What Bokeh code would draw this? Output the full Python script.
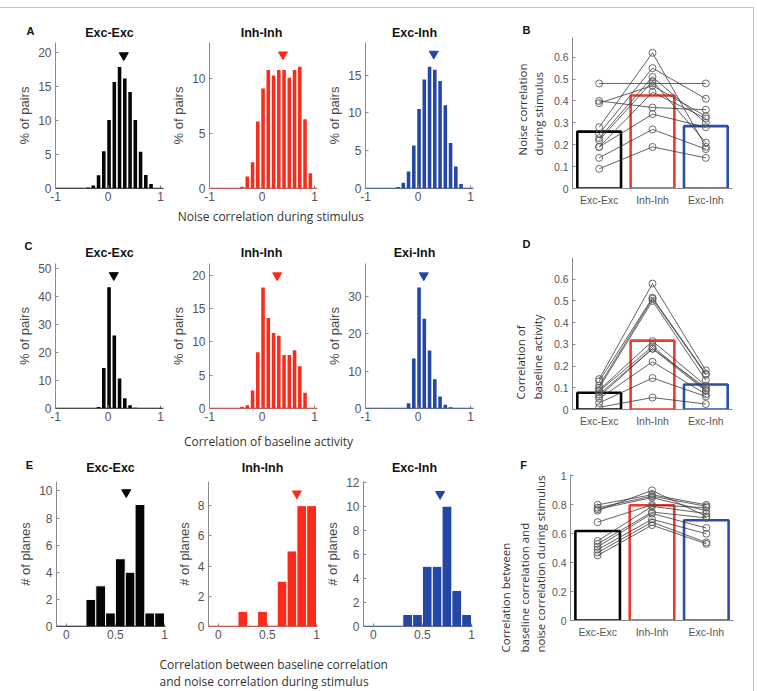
from bokeh.plotting import figure
from bokeh.layouts import column, row
from bokeh.models import Label, Span, FixedTicker, FactorRange, Range1d, NumeralTickFormatter
from bokeh.embed import file_html
from bokeh.resources import INLINE

# ---------------- data ----------------
bin_centers = [-0.98, -0.88, -0.78, -0.68, -0.58, -0.48, -0.38, -0.28, -0.18, -0.08,
               0.02, 0.12, 0.22, 0.32, 0.42, 0.52, 0.62, 0.72, 0.82, 0.92]
noise_exc_exc = [0, 0, 0, 0, 0, 0.05, 0.15, 0.45, 1.95, 5.5, 10.1, 15.7, 17.9, 16.2, 14.2, 10.1, 5.4, 2.0, 0.65, 0.05]
noise_inh_inh = [0, 0, 0, 0, 0, 0, 0.15, 1.1, 2.4, 6.1, 9.1, 10.8, 10.3, 10.8, 10.8, 10.1, 10.8, 11.1, 6.3, 1.4]
noise_exc_inh = [0, 0, 0, 0, 0, 0.05, 0.2, 0.75, 2.25, 5.7, 10.5, 14.4, 16.1, 15.7, 14.2, 11.0, 6.0, 2.9, 0.6, 0.05]

base_exc_exc = [0, 0, 0, 0, 0, 0, 0, 0, 0.5, 14.5, 43.3, 26.1, 10.7, 3.7, 1.2, 0.3, 0, 0, 0, 0]
base_inh_inh = [0, 0, 0, 0, 0, 0, 0.25, 0.5, 2.7, 8.45, 18.2, 13.6, 11.35, 10.95, 8.05, 8.05, 8.75, 6.35, 2.35, 0]
base_exc_inh = [0, 0, 0, 0, 0, 0, 0, 0, 1.4, 13.4, 32.4, 24.0, 15.5, 7.8, 3.2, 1.0, 0.35, 0, 0, 0]

plane_bins = [0.05, 0.15, 0.25, 0.35, 0.45, 0.55, 0.65, 0.75, 0.85, 0.95]
planes_exc_exc = [0, 0, 2, 3, 1, 5, 4, 9, 1, 1]
planes_inh_inh = [0, 0, 1, 0, 1, 0, 3, 5, 8, 8]
planes_exc_inh = [0, 0, 0, 1, 1, 5, 5, 10, 3, 1]

# mean markers (x = mean, y = marker height)
noise_mean_x = [0.30, 0.40, 0.30]
noise_mark_y = [19.6, 12.2, 17.8]
base_mean_x = [0.11, 0.29, 0.11]
base_mark_y = [47.6, 20.0, 35.6]
plane_mean_x = [0.61, 0.80, 0.68]
plane_mark_y = [9.9, 8.8, 11.0]

pair_types = ["Exc-Exc", "Inh-Inh", "Exc-Inh"]

# B: noise correlation during stimulus, per plane
B_bars = [0.26, 0.425, 0.285]
B_exc_exc = [0.48, 0.40, 0.39, 0.28, 0.25, 0.23, 0.22, 0.19, 0.19, 0.14, 0.09]
B_inh_inh = [0.48, 0.37, 0.47, 0.62, 0.55, 0.51, 0.49, 0.44, 0.34, 0.27, 0.19]
B_exc_inh = [0.48, 0.36, 0.33, 0.19, 0.41, 0.30, 0.21, 0.32, 0.28, 0.18, 0.14]

# D: correlation of baseline activity, per plane
D_bars = [0.077, 0.317, 0.115]
D_exc_exc = [0.01, 0.03, 0.05, 0.06, 0.07, 0.085, 0.09, 0.10, 0.11, 0.13, 0.14]
D_inh_inh = [0.055, 0.145, 0.22, 0.28, 0.28, 0.29, 0.315, 0.50, 0.51, 0.515, 0.58]
D_exc_inh = [0.025, 0.06, 0.07, 0.085, 0.10, 0.09, 0.11, 0.135, 0.16, 0.165, 0.18]

# F: correlation between baseline and noise correlation, per plane
F_bars = [0.619, 0.797, 0.693]
F_exc_exc = [0.80, 0.78, 0.77, 0.76, 0.68, 0.55, 0.53, 0.51, 0.49, 0.47, 0.45]
F_inh_inh = [0.87, 0.86, 0.85, 0.90, 0.80, 0.79, 0.75, 0.74, 0.70, 0.68, 0.66]
F_exc_inh = [0.80, 0.79, 0.76, 0.72, 0.78, 0.74, 0.71, 0.64, 0.60, 0.54, 0.53]

# ---------------- style ----------------
BLACK = "#050505"
RED = "#fb2b1c"
BLUE = "#2447a6"
RED_EDGE = "#ef3a30"
BLUE_EDGE = "#2c4ea8"
AXIS = "#8a8a8a"
TICKTXT = "#555555"
SANS = "Liberation Sans"
LABELFONT = "Open Sans"
HALF_PI = 1.5707963


def no_align(p):
    if "frame_align" in p.properties():
        p.frame_align = False


def base_fig(left, fw, right, top, fh, bottom, x_range, y_range):
    p = figure(frame_width=fw, frame_height=fh, min_border_left=left, min_border_right=right,
               min_border_top=top, min_border_bottom=bottom, x_range=x_range, y_range=y_range,
               toolbar_location=None, output_backend="svg", title=None)
    no_align(p)
    p.outline_line_color = None
    p.border_fill_color = None
    p.background_fill_color = None
    p.xgrid.visible = False
    p.ygrid.visible = False
    for ax in (p.xaxis[0], p.yaxis[0]):
        ax.axis_line_color = AXIS
        ax.axis_line_width = 1
        ax.major_tick_line_color = AXIS
        ax.major_tick_in = 3
        ax.major_tick_out = 0
        ax.minor_tick_line_color = None
        ax.major_label_text_font = SANS
        ax.major_label_text_color = TICKTXT
        ax.major_label_standoff = 4
    return p


def hist_fig(geom, xr, yr, xticks, yticks, centers, heights, width, color, mx, my,
             ylabel, edge=None, fs="12px"):
    left, fw, right, top, fh, bottom = geom
    p = base_fig(left, fw, right, top, fh, bottom, Range1d(*xr), Range1d(*yr))
    p.vbar(x=centers, top=heights, width=width, fill_color=color,
           line_color=edge if edge else None, line_width=1 if edge else 0)
    p.add_layout(Span(location=0, dimension="width", line_color=color, line_width=1.3))
    p.scatter(x=[mx], y=[my], marker="inverted_triangle", size=9, fill_color=color, line_color=color)
    p.xaxis.ticker = FixedTicker(ticks=xticks)
    p.yaxis.ticker = FixedTicker(ticks=yticks)
    p.xaxis.formatter = NumeralTickFormatter(format="0.[0]")
    p.yaxis.formatter = NumeralTickFormatter(format="0.[0]")
    p.xaxis.major_label_text_font_size = fs
    p.yaxis.major_label_text_font_size = fs
    p.xaxis.major_label_standoff = 3
    p.yaxis.axis_label = ylabel
    p.yaxis.axis_label_text_font = SANS
    p.yaxis.axis_label_text_font_style = "normal"
    p.yaxis.axis_label_text_font_size = "13px"
    p.yaxis.axis_label_text_color = "#4a4a4a"
    p.yaxis.axis_label_standoff = 3
    return p


def pairs_fig(geom, ymax, yticks, bars, ee, ii, ei):
    left, fw, right, top, fh, bottom = geom
    p = base_fig(left, fw, right, top, fh, bottom,
                 FactorRange(factors=pair_types, range_padding=0), Range1d(0, ymax))
    p.vbar(x=pair_types, top=bars, width=0.82, fill_color=None,
           line_color=[BLACK, RED_EDGE, BLUE_EDGE], line_width=2.6)
    xs = [pair_types for _ in ee]
    ys = [[a, b, c] for a, b, c in zip(ee, ii, ei)]
    p.multi_line(xs=xs, ys=ys, line_color="#3a3a3a", line_width=0.8)
    for cat, vals in zip(pair_types, (ee, ii, ei)):
        p.scatter(x=[cat] * len(vals), y=vals, marker="circle", size=7,
                  fill_color=None, line_color="#5a5a5a", line_width=0.9)
    p.yaxis.ticker = FixedTicker(ticks=yticks)
    p.yaxis.formatter = NumeralTickFormatter(format="0.[0]")
    p.xaxis.major_tick_in = 0
    p.xaxis.major_label_text_font_size = "10.5px"
    p.yaxis.major_label_text_font_size = "10.5px"
    p.xaxis.major_label_standoff = 5
    return p


def text_fig(w, h, items):
    """A blank canvas used only for text; items: (x, y_from_top, text, size, bold, align, font, angle)."""
    p = figure(width=w, height=h, min_border=0, toolbar_location=None, output_backend="svg",
               x_axis_type=None, y_axis_type=None, title=None,
               x_range=Range1d(0, 1), y_range=Range1d(0, 1))
    no_align(p)
    p.outline_line_color = None
    p.border_fill_color = None
    p.background_fill_color = None
    for (x, yt, txt, size, bold, align, font, angle) in items:
        p.add_layout(Label(x=x, y=h - yt, x_units="screen", y_units="screen", text=txt,
                           text_font=font, text_font_size=size,
                           text_font_style="bold" if bold else "normal",
                           text_color="#111111" if bold else "#333333",
                           text_align=align, text_baseline="middle", angle=angle))
    return p


def heading(x, yt, txt):
    return (x, yt, txt, "12.5px", True, "center", SANS, 0.0)


def letter(x, yt, txt):
    return (x, yt, txt, "11px", True, "center", SANS, 0.0)


def vlabel(x, yt, txt):
    return (x, yt, txt, "11.5px", False, "left", LABELFONT, HALF_PI)


def hlabel(x, yt, txt, align="center"):
    return (x, yt, txt, "12px", False, align, LABELFONT, 0.0)


hist_x_ac = (-1.0, 1.057)
hist_x_e = (-0.1, 1.01)
W_LEFT = 494      # width of the three histogram columns
W_LAB = 51        # width of the y-label canvas for B/D/F

# ---------------- row A (y 0..206) ----------------
a1 = hist_fig((55, 108, 5, 0, 146, 18), hist_x_ac, (0, 21.5), [-1, 0, 1], [0, 5, 10, 15, 20],
              bin_centers, noise_exc_exc, 0.068, BLACK, noise_mean_x[0], noise_mark_y[0], "% of pairs")
a2 = hist_fig((39, 108, 7, 0, 146, 18), hist_x_ac, (0, 13.3), [-1, 0, 1], [0, 5, 10],
              bin_centers, noise_inh_inh, 0.068, RED, noise_mean_x[1], noise_mark_y[1], "% of pairs")
a3 = hist_fig((38, 108, 26, 0, 146, 18), hist_x_ac, (0, 19.3), [-1, 0, 1], [0, 5, 10, 15],
              bin_centers, noise_exc_inh, 0.068, BLUE, noise_mean_x[2], noise_mark_y[2], "% of pairs")
tA = text_fig(W_LEFT, 42, [letter(30, 30, "A"), heading(109, 32, "Exc-Exc"),
                           heading(261, 32, "Inh-Inh"), heading(414, 32, "Exc-Inh")])
lB = text_fig(W_LAB, 206, [letter(27, 29, "B"), vlabel(23, 155, "Noise correlation"),
                           vlabel(39, 155, "during stimulus")])
b = pairs_fig((22, 160, 30, 37, 151, 18), 0.69, [0, 0.1, 0.2, 0.3, 0.4, 0.5, 0.6],
              B_bars, B_exc_exc, B_inh_inh, B_exc_inh)

# ---------------- row C (y 226..426) ----------------
c1 = hist_fig((55, 108, 5, 2, 145, 20), hist_x_ac, (0, 51.8), [-1, 0, 1], [0, 10, 20, 30, 40, 50],
              bin_centers, base_exc_exc, 0.068, BLACK, base_mean_x[0], base_mark_y[0], "% of pairs")
c2 = hist_fig((39, 108, 7, 2, 145, 20), hist_x_ac, (0, 21.8), [-1, 0, 1], [0, 5, 10, 15, 20],
              bin_centers, base_inh_inh, 0.068, RED, base_mean_x[1], base_mark_y[1], "% of pairs")
c3 = hist_fig((38, 108, 26, 2, 145, 20), hist_x_ac, (0, 38.8), [-1, 0, 1], [0, 10, 20, 30],
              bin_centers, base_exc_inh, 0.068, BLUE, base_mean_x[2], base_mark_y[2], "% of pairs")
tC = text_fig(W_LEFT, 33, [letter(28, 17, "C"), heading(109, 24, "Exc-Exc"),
                           heading(261, 24, "Inh-Inh"), heading(414, 24, "Exi-Inh")])
lD = text_fig(W_LAB, 200, [letter(27, 15, "D"), vlabel(21, 171, "Correlation of"),
                           vlabel(38, 171, "baseline activity")])
d = pairs_fig((22, 160, 30, 29, 152, 19), 0.70, [0, 0.1, 0.2, 0.3, 0.4, 0.5, 0.6],
              D_bars, D_exc_exc, D_inh_inh, D_exc_inh)

# ---------------- row E (y 446..650) ----------------
e1 = hist_fig((56, 109, 3, 7, 145, 27), hist_x_e, (0, 10.7), [0, 0.5, 1], [0, 2, 4, 6, 8, 10],
              plane_bins, planes_exc_exc, 0.1, BLACK, plane_mean_x[0], plane_mark_y[0], "# of planes",
              edge="white")
e2 = hist_fig((40, 109, 5, 7, 145, 27), hist_x_e, (0, 9.6), [0, 0.5, 1], [0, 2, 4, 6, 8],
              plane_bins, planes_inh_inh, 0.1, RED, plane_mean_x[1], plane_mark_y[1], "# of planes",
              edge="white")
e3 = hist_fig((38, 109, 25, 7, 145, 27), hist_x_e, (0, 12.05), [0, 0.5, 1], [0, 2, 4, 6, 8, 10, 12],
              plane_bins, planes_exc_inh, 0.1, BLUE, plane_mean_x[2], plane_mark_y[2], "# of planes",
              edge="white")
tE = text_fig(W_LEFT, 25, [letter(29, 15, "E"), heading(110, 18, "Exc-Exc"),
                           heading(262, 18, "Inh-Inh"), heading(414, 18, "Exc-Inh")])
lF = text_fig(W_LAB, 204, [letter(26, 15, "F"), vlabel(8, 203, "Correlation between"),
                           vlabel(27, 203, "baseline correlation and"),
                           vlabel(43, 203, "noise correlation during stimulus")])
f = pairs_fig((22, 163, 27, 25, 146, 33), 1.01, [0, 0.2, 0.4, 0.6, 0.8, 1.0],
              F_bars, F_exc_exc, F_inh_inh, F_exc_inh)

# ---------------- axis-title strips ----------------
sA = text_fig(757, 20, [hlabel(272, 8, "Noise correlation during  stimulus")])
sC = text_fig(757, 20, [hlabel(268, 12, "Correlation of baseline activity")])
sE = text_fig(757, 41, [hlabel(159, 11, "Correlation between baseline correlation", "left"),
                        hlabel(159, 28, "and noise correlation during stimulus", "left")])


def block(title_fig, hists, lab_fig, pair_fig):
    return row(column(title_fig, row(*hists, spacing=0), spacing=0), lab_fig, pair_fig, spacing=0)


frame_bg = ("linear-gradient(#c4c4c4,#c4c4c4) 0px 7px / 754px 1px no-repeat, "
            "linear-gradient(#c4c4c4,#c4c4c4) 753px 7px / 1px 684px no-repeat, #ffffff")

layout = column(block(tA, (a1, a2, a3), lB, b), sA,
                block(tC, (c1, c2, c3), lD, d), sC,
                block(tE, (e1, e2, e3), lF, f), sE,
                spacing=0, styles={"background": frame_bg})

open("out.html", "w").write(file_html(layout, INLINE))
